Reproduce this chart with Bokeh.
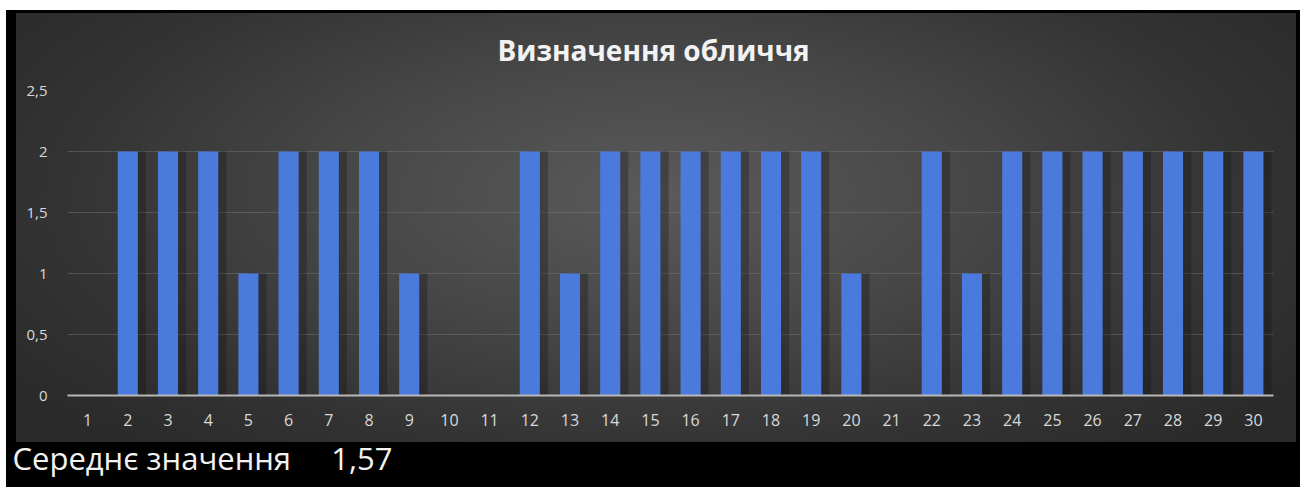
from bokeh.plotting import figure
from bokeh.models import (FactorRange, Range1d, FixedTicker, Title, InlineStyleSheet,
                          ColumnDataSource, CustomJSTickFormatter)
from bokeh.transform import dodge
from bokeh.embed import file_html
from bokeh.resources import INLINE

# --- data -------------------------------------------------------------------
chart_title = "Визначення обличчя"
footer_label = "Середнє значення"
categories = [str(i) for i in range(1, 31)]
values = [0, 2, 2, 2, 1, 2, 2, 2, 1, 0, 0, 2, 1, 2, 2, 2, 2, 2, 2, 1,
          0, 2, 1, 2, 2, 2, 2, 2, 2, 2]
y_ticks = [0, 0.5, 1, 1.5, 2, 2.5]

mean_value = sum(values) / len(values)
mean_text = f"{mean_value:.2f}".replace(".", ",")

FONT = "Open Sans"

# --- page background: white margin, black card, grey radial-gradient panel ----
panel_css = InlineStyleSheet(css="""
:host {
  background:
    radial-gradient(ellipse 62% 80% at 50% 42%, #5a5a5a 0%, #474747 40%, #333333 75%, #2a2a2a 100%)
      16px 13px / 1280px 429px no-repeat,
    linear-gradient(#000000, #000000) 6px 10px / 1294px 477px no-repeat,
    #ffffff;
}
""")

p = figure(x_range=FactorRange(*categories, range_padding=0),
           y_range=Range1d(0, 2.5),
           width=1304, height=487,
           min_border_left=67, min_border_right=31,
           min_border_top=90, min_border_bottom=92,
           output_backend="svg", toolbar_location=None,
           background_fill_color=None, border_fill_color=None,
           outline_line_color=None)
p.stylesheets = [panel_css]

p.title.text = chart_title
p.title.align = "left"
p.title.offset = 430
p.title.standoff = 44
p.title.text_color = "#f2f2f2"
p.title.text_font = FONT
p.title.text_font_style = "bold"
p.title.text_font_size = "28px"

src = ColumnDataSource(dict(cat=categories, val=values))

# soft drop shadow to the right of each bar
p.vbar(x=dodge("cat", 0.2, range=p.x_range), top="val", width=0.5, source=src,
       fill_color="#111111", fill_alpha=0.3, line_color=None)
p.vbar(x="cat", top="val", width=0.5, source=src,
       fill_color="#4a7bdc", line_color=None)

p.xgrid.grid_line_color = None
p.ygrid.ticker = FixedTicker(ticks=y_ticks)
p.ygrid.grid_line_color = "#7a7a7a"
p.ygrid.grid_line_alpha = 0.45
p.ygrid.grid_line_width = 1

ya = p.yaxis[0]
ya.ticker = FixedTicker(ticks=y_ticks)
ya.formatter = CustomJSTickFormatter(code="return tick.toString().replace('.', ',');")
ya.axis_line_color = None
ya.major_tick_line_color = None
ya.minor_tick_line_color = None
ya.major_label_text_color = "#d9d9d9"
ya.major_label_text_font = FONT
ya.major_label_text_font_size = "15px"
ya.major_label_standoff = 14

xa = p.xaxis[0]
xa.axis_line_color = "#b8b8b8"
xa.axis_line_width = 2
xa.major_tick_line_color = None
xa.minor_tick_line_color = None
xa.major_label_text_color = "#d9d9d9"
xa.major_label_text_font = FONT
xa.major_label_text_font_size = "16px"
xa.major_label_standoff = 12

# --- footer line with the mean value (below the panel, on the black card) -------
footer = Title(text=footer_label + " \u00a0\u00a0\u00a0\u00a0" + mean_text,
               align="left", offset=-55, standoff=12,
               text_color="#f2f2f2", text_font=FONT, text_font_size="31px",
               text_font_style="normal")
p.add_layout(footer, "below")

open("out.html", "w").write(file_html(p, INLINE))
